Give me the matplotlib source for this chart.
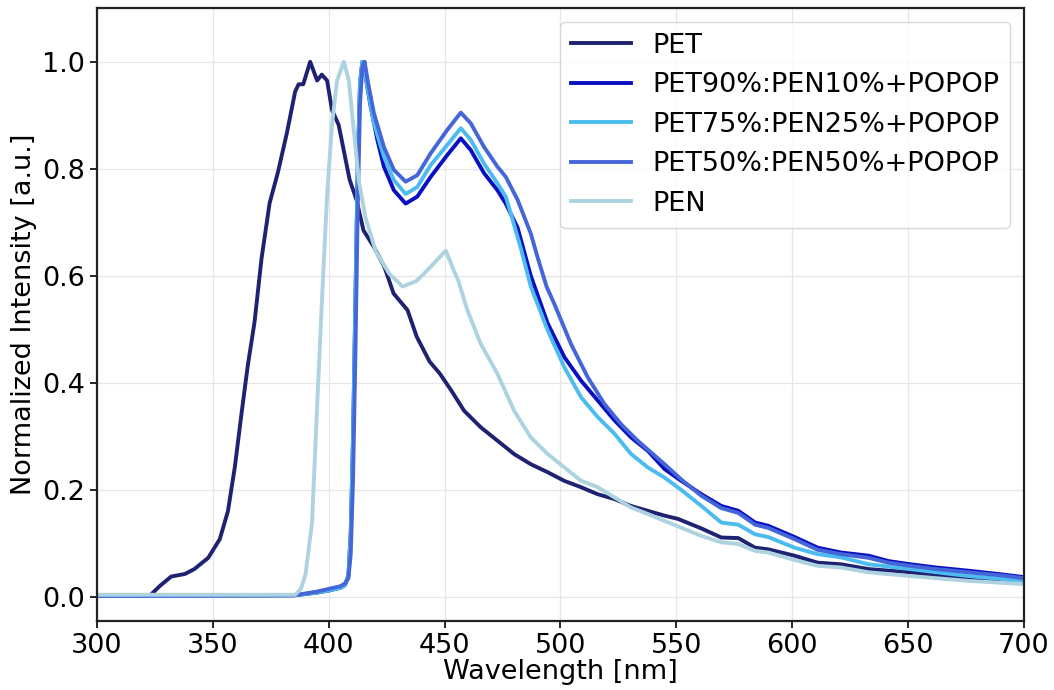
import matplotlib
matplotlib.use("Agg")
import matplotlib.pyplot as plt

# ---------------- data ----------------
pet_wl = [300, 320, 323, 327, 332, 338, 342, 348, 353, 356.5, 359.5, 362.5, 365, 368,
          371, 374.5, 378, 382, 385.5, 387, 389, 392, 395, 397, 399.3, 401.4, 404.3,
          409, 412, 415, 419.5, 424, 428, 434, 438, 443.5, 448, 453, 458.4, 465.6,
          472.8, 480, 487.2, 494.5, 501.6, 508.9, 516, 523.2, 530.4, 537.6, 544.8,
          550.6, 560.8, 569.4, 576.7, 584, 589.6, 601, 611, 621, 633, 651, 676, 700]
pet_val = [0.002, 0.002, 0.003, 0.02, 0.038, 0.043, 0.052, 0.073, 0.108, 0.16, 0.243,
           0.347, 0.43, 0.514, 0.632, 0.736, 0.792, 0.868, 0.944, 0.958, 0.958, 1.0,
           0.965, 0.976, 0.965, 0.91, 0.882, 0.78, 0.742, 0.685, 0.654, 0.617, 0.567,
           0.536, 0.486, 0.44, 0.417, 0.385, 0.348, 0.317, 0.292, 0.267, 0.248, 0.233,
           0.217, 0.205, 0.192, 0.183, 0.170, 0.161, 0.152, 0.146, 0.128, 0.111, 0.110,
           0.092, 0.089, 0.077, 0.064, 0.061, 0.052, 0.046, 0.033, 0.028]

p90_wl = [300, 385, 395, 400, 405, 407, 408.5, 409.5, 410.5, 411.5, 412.5, 413.5, 414.5,
          416, 418.1, 421, 423.8, 428.1, 433.2, 438.2, 444, 451.2, 457, 461.3, 467,
          472.8, 476.4, 481.5, 487.2, 494.5, 501.7, 508.9, 516.1, 523.3, 530.5, 537.7,
          544.9, 552.1, 560.8, 569.4, 576.7, 584, 589.6, 601, 611, 621, 633, 641.5, 651,
          662, 676, 690.5, 700]
p90_val = [0.002, 0.003, 0.008, 0.012, 0.017, 0.022, 0.04, 0.12, 0.3, 0.55, 0.8, 0.96,
           1.0, 0.97, 0.916, 0.854, 0.804, 0.76, 0.735, 0.748, 0.785, 0.826, 0.857,
           0.835, 0.792, 0.76, 0.735, 0.69, 0.60, 0.511, 0.448, 0.404, 0.367, 0.330,
           0.298, 0.273, 0.239, 0.217, 0.192, 0.170, 0.161, 0.139, 0.133, 0.112, 0.092,
           0.083, 0.077, 0.067, 0.061, 0.055, 0.049, 0.042, 0.037]

p75_wl = [300, 385, 395, 400, 405, 407, 408.5, 409.5, 410.5, 411.5, 412.5, 413.5, 414.5,
          416, 419.5, 423.8, 428.1, 433.2, 438.2, 444, 451.2, 457, 461.3, 467, 472.8,
          476.4, 479, 483, 487.2, 494.5, 501.7, 508.9, 516.1, 523.3, 530.5, 537.7, 544.9,
          552.1, 560.8, 569.4, 576.7, 584, 589.6, 601, 611, 621, 633, 651, 676, 700]
p75_val = [0.002, 0.003, 0.008, 0.012, 0.017, 0.022, 0.04, 0.12, 0.3, 0.55, 0.8, 0.96,
           1.0, 0.97, 0.885, 0.823, 0.779, 0.753, 0.766, 0.807, 0.845, 0.876, 0.854,
           0.81, 0.773, 0.748, 0.71, 0.65, 0.58, 0.498, 0.429, 0.373, 0.336, 0.305,
           0.267, 0.242, 0.223, 0.200, 0.170, 0.139, 0.135, 0.117, 0.112, 0.092, 0.080,
           0.074, 0.061, 0.052, 0.039, 0.030]

p50_wl = [300, 385, 395, 400, 405, 407, 408.5, 409.5, 410.5, 411.5, 412.5, 413.5, 414.5,
          415.5, 417, 419.5, 423.8, 428.1, 433.2, 438.2, 444, 451.2, 457, 461.3, 467,
          472.8, 476.4, 481.5, 487.2, 490.1, 494, 497.3, 504.5, 511.7, 518.9, 526.1,
          533.3, 544.9, 552, 560.8, 569.4, 576.7, 584, 589.6, 601, 611, 621, 633, 641.5,
          651, 662, 676, 690.5, 700]
p50_val = [0.002, 0.003, 0.01, 0.015, 0.02, 0.025, 0.035, 0.08, 0.22, 0.45, 0.72, 0.92,
           0.99, 1.0, 0.96, 0.904, 0.841, 0.798, 0.776, 0.788, 0.829, 0.873, 0.905, 0.885,
           0.841, 0.804, 0.785, 0.742, 0.679, 0.635, 0.58, 0.548, 0.473, 0.411, 0.361,
           0.323, 0.292, 0.248, 0.22, 0.189, 0.166, 0.157, 0.135, 0.129, 0.108, 0.088,
           0.080, 0.073, 0.064, 0.058, 0.052, 0.046, 0.040, 0.035]

pen_wl = [300, 385.5, 388, 390, 392.8, 394.9, 397.1, 399.3, 401.4, 403.6, 406.5, 408.7,
          410.9, 413, 415.9, 420.3, 426.1, 431.9, 437.7, 441.1, 446.8, 450.5, 454, 456,
          459.8, 465.6, 472.8, 480, 487.2, 494.5, 501.7, 508.9, 516.1, 523.3, 530.5,
          537.7, 544.9, 560.8, 569.4, 576.7, 584, 589.6, 601, 611, 621, 633, 651, 676, 700]
pen_val = [0.004, 0.004, 0.015, 0.042, 0.139, 0.347, 0.556, 0.75, 0.882, 0.965, 1.0,
           0.965, 0.868, 0.778, 0.708, 0.646, 0.604, 0.58, 0.59, 0.604, 0.63, 0.647,
           0.610, 0.59, 0.536, 0.473, 0.417, 0.348, 0.298, 0.267, 0.242, 0.217, 0.205,
           0.186, 0.167, 0.155, 0.142, 0.114, 0.102, 0.099, 0.086, 0.083, 0.069, 0.058,
           0.055, 0.046, 0.039, 0.030, 0.024]

labels = ["PET", "PET90%:PEN10%+POPOP", "PET75%:PEN25%+POPOP",
          "PET50%:PEN50%+POPOP", "PEN"]
colors = ["#1f2270", "#0a0fc0", "#4cbcf0", "#4466d8", "#add3e0"]

x_ticks = [300, 350, 400, 450, 500, 550, 600, 650, 700]
y_ticks = [0.0, 0.2, 0.4, 0.6, 0.8, 1.0]

# ---------------- plot ----------------
plt.rcParams['font.family'] = ['DejaVu Sans']
fs = 19.5
fig = plt.figure(figsize=(10.54, 6.90), dpi=100)
ax = fig.add_axes([0.092, 0.1, 0.8795, 0.888])

series = [(pet_wl, pet_val), (p90_wl, p90_val), (p75_wl, p75_val),
          (p50_wl, p50_val), (pen_wl, pen_val)]
for (wl, val), lab, col in zip(series, labels, colors):
    ax.plot(wl, val, color=col, lw=2.8, label=lab)

ax.set_xlim(300, 700)
ax.set_ylim(-0.045, 1.1)
ax.set_xticks(x_ticks)
ax.set_yticks(y_ticks)
ax.tick_params(labelsize=fs, width=1.2, length=5)
ax.set_xlabel("Wavelength [nm]", fontsize=fs, labelpad=0)
ax.set_ylabel("Normalized Intensity [a.u.]", fontsize=fs, labelpad=4)
ax.grid(True, color="#e6e6e6", lw=0.9)
ax.set_axisbelow(True)
for s in ax.spines.values():
    s.set_linewidth(1.6)
    s.set_color("#222222")

leg = ax.legend(loc="upper right", fontsize=fs, frameon=True, fancybox=True,
                edgecolor="#d0d0d0", handlelength=2.2, labelspacing=0.5,
                borderaxespad=0.5)
leg.get_frame().set_linewidth(1.0)

fig.savefig("out.png", dpi=100)
